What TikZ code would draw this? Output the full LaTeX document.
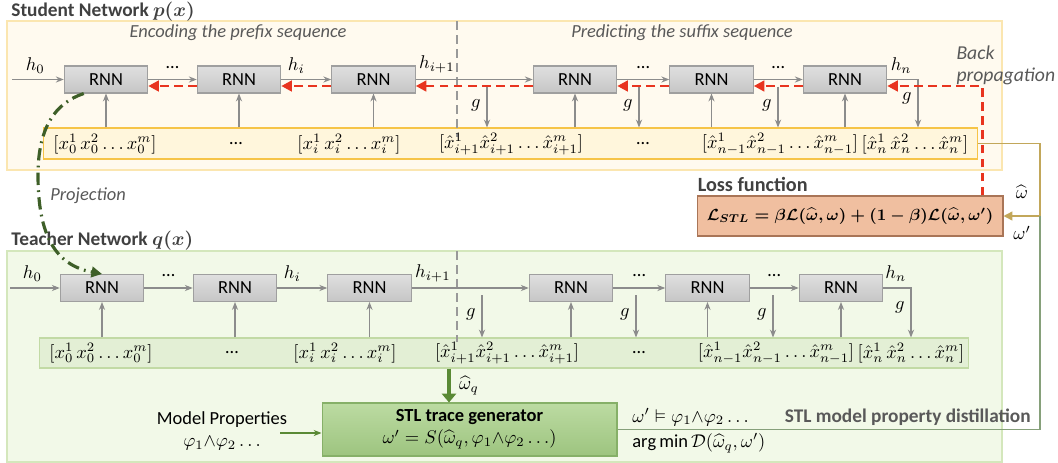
\RequirePackage{fix-cm}
\documentclass[tikz,border=0pt]{standalone}
\usepackage{amsmath,amssymb,bm}
\usepackage{fontspec}
\setmainfont{Carlito}
\usepackage{tikz}
\usetikzlibrary{arrows.meta,calc}

\definecolor{stuBg}{HTML}{FFFAEF}
\definecolor{stuLine}{HTML}{FBE6B0}
\definecolor{stuRow}{HTML}{FFF6DC}
\definecolor{stuRowLine}{HTML}{F6C447}
\definecolor{teaBg}{HTML}{F2F9E8}
\definecolor{teaLine}{HTML}{D4E7BC}
\definecolor{teaRow}{HTML}{E3EFD5}
\definecolor{teaRowLine}{HTML}{C2DAA5}
\definecolor{arrGray}{HTML}{8C8C8C}
\definecolor{bpRed}{HTML}{E8341F}
\definecolor{lossFill}{HTML}{F0BFA0}
\definecolor{lossLine}{HTML}{A97557}
\definecolor{stlTop}{HTML}{BCDBA2}
\definecolor{stlBot}{HTML}{9DC47F}
\definecolor{stlLine}{HTML}{86B068}
\definecolor{khaki}{HTML}{C2A75A}
\definecolor{railGrn}{HTML}{86A07A}
\definecolor{projGrn}{HTML}{3E5F28}
\definecolor{wqGrn}{HTML}{5A8A35}
\definecolor{titleGray}{HTML}{404040}
\definecolor{noteGray}{HTML}{595959}

\newcommand{\lossEq}{{\boldmath$\mathcal{L}_{STL}=\beta\mathcal{L}(\widehat{\omega},\omega)+(1-\beta)\mathcal{L}(\widehat{\omega},\omega')$}}

\begin{document}
\begin{tikzpicture}[x=0.02cm, y=-0.02cm, line width=0.6pt,
		font=\fontsize{10.5}{12.5}\selectfont,
		>={Stealth[length=4.5pt,width=3.5pt]}]

	\useasboundingbox (0,0) rectangle (1058,463);

	\tikzset{
		styleRnn/.style={
			draw=gray!75, top color=gray!25, bottom color=gray!45,
			minimum width=1.67cm, minimum height=0.54cm, inner sep=0pt
		},		%RNNの箱
		styleFwd/.style={draw=arrGray, ->},
		styleBp/.style={draw=bpRed, line width=1.7pt, dash pattern=on 5pt off 3pt,
			-{Triangle[length=6pt,width=6pt]}},
		styleDiv/.style={draw=gray!80, line width=1pt, dash pattern=on 5pt off 3pt},
		styleTitle/.style={font=\fontsize{11}{13}\selectfont\bfseries, text=titleGray, anchor=west},
		styleNote/.style={font=\fontsize{10.5}{12.5}\selectfont\itshape, text=noteGray},
		styleDots/.style={above=6pt, inner sep=0pt},
		styleRowTxt/.style={inner sep=0pt}
	};

	%背景
	\draw[stuLine, fill=stuBg] (7,21) rectangle (1002,170);
	\draw[teaLine, fill=teaBg] (7,251) rectangle (1002,462);
	\node[styleTitle] (stuTitle) at (5,12) {Student Network {\boldmath$p(x)$}};
	\node[styleTitle] (teaTitle) at (5,241) {Teacher Network {\boldmath$q(x)$}};
	\node[styleNote] (encTxt) at (238,33) {Encoding the prefix sequence};
	\node[styleNote] (preTxt) at (682,33) {Predicting the suffix sequence};
	\node[styleNote, font=\fontsize{11.2}{13}\selectfont\itshape, anchor=north west,
		align=left, inner sep=0pt] (bpTxt) at (956,45) {Back\\[-0.5pt]propagation};

	%入力の行
	\node[draw=stuRowLine, fill=stuRow, minimum width=18.7cm, minimum height=0.62cm,
		inner sep=0pt] (srow) at (510.5,143.5) {};
	\node[draw=teaRowLine, fill=teaRow, minimum width=18.6cm, minimum height=0.6cm,
		inner sep=0pt] (trow) at (504,353) {};

	%区切り線
	\coordinate (sdivA) at (457,21);
	\coordinate (sdivB) at (457,137);
	\coordinate (tdivA) at (457,251);
	\coordinate (tdivB) at (457,342);
	\draw[styleDiv] (sdivA) -- (sdivB);
	\draw[styleDiv] (tdivA) -- (tdivB);

	%ループでRNNを書く
	\foreach \i/\x in {1/106, 2/239, 3/373.5, 4/575, 5/711.5, 6/845} {
		\node[styleRnn] (s\i) at (\x,79.5) {RNN};
		\node[styleRnn] (t\i) at (\x-4,288) {RNN};
		\draw[styleFwd] (srow.north -| s\i) -- (s\i.south);
		\draw[styleFwd] (trow.north -| t\i) -- (t\i.south);
	}

	%行の文字
	\foreach \i/\x/\y/\txt in {
			1/105/144/{$[x_0^1\,x_0^2\ldots x_0^m]$},
			2/236/144/{\ldots},
			3/349/144/{$[x_i^1\,x_i^2\ldots x_i^m]$},
			4/511/144/{$[\hat{x}_{i+1}^1\hat{x}_{i+1}^2\ldots\hat{x}_{i+1}^m]$},
			5/643/144/{\ldots},
			6/780/144/{$[\hat{x}_{n-1}^1\hat{x}_{n-1}^2\ldots\hat{x}_{n-1}^m]$},
			7/915/144/{$[\hat{x}_n^1\,\hat{x}_n^2\ldots\hat{x}_n^m]$}} {
		\node[styleRowTxt] (sx\i) at (\x,\y) {\txt};
		\node[styleRowTxt] (tx\i) at (\x-4,\y+209) {\txt};
	}

	%入力の矢印
	\coordinate (sin) at (12,79.5);
	\coordinate (tin) at (10,288);
	\draw[styleFwd] (sin) -- node[above, pos=0.45] {$h_0$} (s1.west);
	\draw[styleFwd] (tin) -- node[above, pos=0.45] {$h_0$} (t1.west);

	%ループで横の矢印を書く
	\foreach \nw in {s, t} {
		\foreach \a/\b in {1/2, 4/5, 5/6}
			\draw[styleFwd] (\nw\a.east) -- node[styleDots] {\ldots} (\nw\b.west);
		\draw[styleFwd] (\nw2.east) -- node[above, pos=0.3] {$h_i$} (\nw3.west);
		\draw[styleFwd] (\nw3.east) -- node[above, pos=0.18] {$h_{i+1}$} (\nw4.west);
	}

	%gの矢印
	\foreach \nw/\rw/\yy/\xa/\xb/\xc/\xd in {s/srow/79.5/487/639/778/918, t/trow/288/482/636/773/911} {
		\coordinate (\nw g1) at (\xa,\yy);
		\coordinate (\nw g2) at (\xb,\yy);
		\coordinate (\nw g3) at (\xc,\yy);
		\coordinate (\nw gn) at (\xd,\yy);
		\foreach \k in {1,2,3}
			\draw[styleFwd] ([yshift=-4pt]\nw g\k) -- node[left, pos=0.45] {$g$} (\nw g\k |- \rw.north);
		\draw[styleFwd] (\nw6.east) -- node[above, pos=0.45] {$h_n$} (\nw gn)
			-- node[left, pos=0.4] {$g$} (\nw gn |- \rw.north);
	}

	%損失関数
	\node[draw=lossLine, fill=lossFill, minimum width=6.12cm, minimum height=0.8cm,
		inner sep=2pt, font=\fontsize{9.2}{11}\selectfont] (loss) at (850,216) {\lossEq};
	\node[styleTitle, font=\fontsize{11.5}{13}\selectfont\bfseries, anchor=south west,
		inner sep=1pt] (lossTitle) at ($(loss.north west)+(-1,-2)$) {Loss function};

	%逆伝播
	\coordinate (bpc) at (982,86);
	\draw[styleBp] (loss.north -| bpc) -- (bpc) -- (bpc -| s6.east);
	\foreach \a/\b in {6/5, 5/4, 4/3, 3/2, 2/1}
		\draw[styleBp] ([yshift=-3.7pt]s\a.west) -- ([yshift=-3.7pt]s\b.east);

	%STLトレース生成
	\node[draw=stlLine, top color=stlTop, bottom color=stlBot,
		minimum width=5.9cm, minimum height=1.06cm, align=center, inner sep=1pt]
		(stl) at (469.5,429.5)
		{\textbf{STL trace generator}\\ $\omega'=S(\widehat{\omega}_q,\varphi_1{\wedge}\varphi_2\ldots)$};
	\coordinate (wq) at (449,390);
	\draw[draw=wqGrn, line width=2.8pt, -{Triangle[length=5pt,width=8pt]}]
		(trow.south -| wq) -- node[right, xshift=1pt] {$\widehat{\omega}_q$} (stl.north -| wq);

	\node[align=center] (mp) at (222,431)
		{Model Properties\\ $\varphi_1{\wedge}\varphi_2\ldots$};
	\coordinate (mpin) at (280,433);
	\draw[draw=wqGrn, ->] (mpin) -- (mpin -| stl.west);

	%蒸留
	\coordinate (rail) at (1040,216);
	\draw[draw=khaki, line width=0.8pt, -{Triangle[length=5pt,width=5pt]}]
		(srow.east) -- (srow.east -| rail) -- (rail) -- (loss.east);
	\draw[draw=railGrn, line width=0.8pt] (stl.east) -- (stl.east -| rail) -- (rail);
	\node (omHat) at (1022,192) {$\widehat{\omega}$};
	\node (omPri) at (1022,233) {$\omega'$};
	\node[anchor=west] (sat) at (626,417) {$\omega'\vDash\varphi_1{\wedge}\varphi_2\ldots$};
	\node[anchor=west] (amin) at (626,443)
		{$\operatorname*{arg\,min}\mathcal{D}(\widehat{\omega}_q,\omega')$};
	\node[styleTitle, anchor=east, text=noteGray] (distTxt) at (1037,417)
		{STL model property distillation};

	%射影
	\draw[draw=projGrn, line width=1.8pt,
		dash pattern=on 7pt off 3pt on 1pt off 3pt, -{Triangle[length=6pt,width=6pt]}]
		($(s1.south west)+(20,0)$) .. controls (55,103) and (38,128) .. (38,175)
		.. controls (38,235) and (55,265) .. (t1.north);
	\node[styleNote, anchor=west] (projTxt) at (44,196) {Projection};

\end{tikzpicture}
\end{document}
